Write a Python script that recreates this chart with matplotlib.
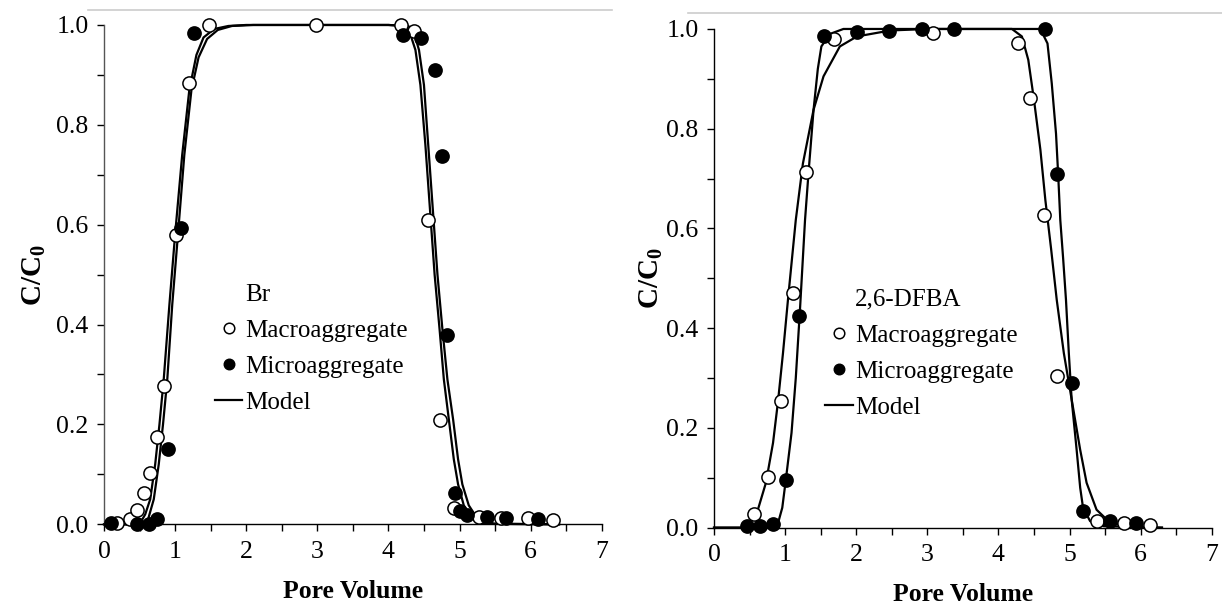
import numpy as np
import matplotlib.pyplot as plt
from matplotlib.lines import Line2D
from matplotlib.ticker import MultipleLocator

# ─────────────────────────────────────────────────────────────────────────────
# DATA
# ─────────────────────────────────────────────────────────────────────────────

# Br -- measured points
br_macro_pv = [0.18, 0.36, 0.46, 0.56, 0.65, 0.75, 0.84, 1.01, 1.20, 1.48,
               2.98, 4.18, 4.36, 4.55, 4.73, 4.92, 5.27, 5.58, 5.96, 6.31]
br_macro_c = [0.002, 0.010, 0.028, 0.062, 0.102, 0.174, 0.276, 0.580, 0.884, 1.0,
              1.0, 1.0, 0.988, 0.609, 0.209, 0.032, 0.014, 0.013, 0.012, 0.009]

br_micro_pv = [0.10, 0.46, 0.63, 0.75, 0.90, 1.08, 1.27, 4.20, 4.46, 4.65,
               4.75, 4.83, 4.93, 5.00, 5.10, 5.38, 5.65, 6.11]
br_micro_c = [0.002, 0.0, 0.001, 0.010, 0.150, 0.594, 0.984, 0.980, 0.974, 0.910,
              0.737, 0.380, 0.062, 0.026, 0.018, 0.014, 0.013, 0.010]

# Br -- model curves
br_model_macro_pv = [0.0, 0.45, 0.52, 0.58, 0.65, 0.72, 0.78, 0.84, 0.92, 1.00,
                     1.10, 1.20, 1.30, 1.40, 1.55, 1.75, 2.00, 4.00, 4.22, 4.30,
                     4.38, 4.45, 4.52, 4.58, 4.65, 4.72, 4.78, 4.85, 4.92, 4.98,
                     5.06, 5.15, 5.25, 5.40, 6.40]
br_model_macro_c = [0.0, 0.0, 0.005, 0.02, 0.05, 0.12, 0.20, 0.29, 0.44, 0.58,
                    0.74, 0.87, 0.94, 0.975, 0.992, 0.998, 1.0, 1.0, 0.998, 0.985,
                    0.95, 0.88, 0.76, 0.64, 0.50, 0.39, 0.29, 0.21, 0.13, 0.08,
                    0.038, 0.016, 0.006, 0.001, 0.0]

br_model_micro_pv = [0.0, 0.55, 0.62, 0.70, 0.77, 0.83, 0.89, 0.96, 1.04, 1.13,
                     1.23, 1.33, 1.45, 1.60, 1.80, 2.10, 4.00, 4.28, 4.36, 4.43,
                     4.50, 4.56, 4.62, 4.69, 4.76, 4.83, 4.91, 4.98, 5.04, 5.13,
                     5.23, 5.33, 5.50, 6.40]
br_model_micro_c = [0.0, 0.0, 0.01, 0.05, 0.12, 0.20, 0.29, 0.44, 0.58, 0.74,
                    0.87, 0.935, 0.972, 0.99, 0.998, 1.0, 1.0, 0.998, 0.985, 0.95,
                    0.88, 0.76, 0.64, 0.50, 0.39, 0.29, 0.21, 0.13, 0.08, 0.038,
                    0.016, 0.006, 0.001, 0.0]

# 2,6-DFBA -- measured points
dfba_macro_pv = [0.56, 0.76, 0.94, 1.11, 1.30, 1.69, 3.08, 4.27, 4.45, 4.64,
                 4.83, 5.39, 5.76, 6.13]
dfba_macro_c = [0.028, 0.102, 0.253, 0.470, 0.713, 0.979, 0.991, 0.971, 0.861, 0.627,
                0.305, 0.013, 0.009, 0.006]

dfba_micro_pv = [0.47, 0.65, 0.83, 1.01, 1.20, 1.55, 2.01, 2.46, 2.92, 3.38,
                 4.66, 4.83, 5.03, 5.19, 5.57, 5.94]
dfba_micro_c = [0.003, 0.003, 0.007, 0.096, 0.424, 0.985, 0.993, 0.995, 1.0, 1.0,
                0.999, 0.709, 0.291, 0.034, 0.013, 0.009]

# 2,6-DFBA -- model curves
dfba_model_macro_pv = [0.0, 0.40, 0.48, 0.60, 0.73, 0.83, 0.90, 0.97, 1.04, 1.15,
                       1.25, 1.40, 1.54, 1.77, 2.01, 2.48, 3.00, 4.19, 4.33, 4.42,
                       4.50, 4.59, 4.66, 4.74, 4.82, 4.92, 5.03, 5.15, 5.24, 5.38,
                       5.57, 5.89, 6.30]
dfba_model_macro_c = [0.0, 0.0, 0.005, 0.028, 0.09, 0.17, 0.253, 0.35, 0.457, 0.617,
                      0.73, 0.838, 0.905, 0.965, 0.985, 0.997, 1.0, 1.0, 0.985, 0.938,
                      0.858, 0.758, 0.657, 0.56, 0.457, 0.35, 0.257, 0.156, 0.09, 0.036,
                      0.010, 0.001, 0.0]

dfba_model_micro_pv = [0.0, 0.80, 0.86, 0.90, 0.96, 1.01, 1.09, 1.15, 1.21, 1.28,
                       1.33, 1.40, 1.46, 1.51, 1.63, 1.82, 4.59, 4.69, 4.75, 4.81,
                       4.84, 4.87, 4.91, 4.95, 4.99, 5.03, 5.10, 5.15, 5.19, 5.29,
                       5.48, 6.30]
dfba_model_micro_c = [0.0, 0.0, 0.003, 0.009, 0.04, 0.096, 0.19, 0.30, 0.44, 0.617,
                      0.713, 0.838, 0.92, 0.965, 0.99, 1.0, 1.0, 0.971, 0.891, 0.79,
                      0.709, 0.617, 0.54, 0.457, 0.35, 0.257, 0.156, 0.08, 0.04, 0.013,
                      0.003, 0.0]

# ─────────────────────────────────────────────────────────────────────────────
# STYLE
# ─────────────────────────────────────────────────────────────────────────────

plt.rcParams["font.family"] = ["Liberation Serif", "DejaVu Serif"]
plt.rcParams["mathtext.fontset"] = "custom"
plt.rcParams["mathtext.rm"] = "Liberation Serif"
plt.rcParams["mathtext.bf"] = "Liberation Serif:bold"

TICK_FS   = 18.5
XLABEL_FS = 18.5
YLABEL_FS = 21
LEGEND_FS = 18
MS        = 9.5


def draw_panel(ax, name, macro, micro, model_macro, model_micro, spine_col,
               leg_y, ylab_pad):
    ax.plot(*model_macro, color="black", lw=1.6, clip_on=False, zorder=2)
    ax.plot(*model_micro, color="black", lw=1.6, clip_on=False, zorder=2)
    ax.plot(*macro, ls="none", marker="o", ms=MS, mfc="white", mec="black",
            mew=1.1, clip_on=False, zorder=3)
    ax.plot(*micro, ls="none", marker="o", ms=MS, mfc="black", mec="black",
            mew=1.1, clip_on=False, zorder=3)

    ax.set_xlim(0, 7)
    ax.set_ylim(0, 1.0)
    ax.xaxis.set_major_locator(MultipleLocator(1))
    ax.xaxis.set_minor_locator(MultipleLocator(0.5))
    ax.yaxis.set_major_locator(MultipleLocator(0.2))
    ax.yaxis.set_minor_locator(MultipleLocator(0.1))
    ax.set_yticks(np.arange(0, 1.01, 0.2))
    ax.set_yticklabels([f"{v:.1f}" for v in np.arange(0, 1.01, 0.2)])
    ax.tick_params(which="both", direction="out", length=5, width=1.0,
                   labelsize=TICK_FS)
    ax.tick_params(axis="x", pad=7)
    ax.tick_params(axis="y", pad=6)

    for side in ["top", "right"]:
        ax.spines[side].set_visible(False)
    ax.spines["left"].set_color(spine_col)
    ax.spines["bottom"].set_color("black")
    for side in ["left", "bottom"]:
        ax.spines[side].set_linewidth(1.0)

    ax.set_xlabel("Pore Volume", fontsize=XLABEL_FS, fontweight="bold", labelpad=12)
    ax.set_ylabel(r"C/C$_\mathbf{0}$", fontsize=YLABEL_FS, fontweight="bold",
                  labelpad=ylab_pad)

    handles = [
        Line2D([], [], ls="none", label=name),
        Line2D([], [], ls="none", marker="o", ms=MS, mfc="white", mec="black",
               mew=1.1, label="Macroaggregate"),
        Line2D([], [], ls="none", marker="o", ms=MS, mfc="black", mec="black",
               label="Microaggregate"),
        Line2D([], [], color="black", lw=1.6, label="Model"),
    ]
    ax.legend(handles=handles, loc="upper left", bbox_to_anchor=(0.223, leg_y),
              frameon=False, fontsize=LEGEND_FS, borderpad=0, borderaxespad=0,
              handlelength=1.1, handletextpad=0.1, labelspacing=0.54,
              markerscale=0.8)


# ─────────────────────────────────────────────────────────────────────────────
# FIGURE
# ─────────────────────────────────────────────────────────────────────────────

fig = plt.figure(figsize=(12.22, 6.15), dpi=100)
ax_br = fig.add_axes([0.0851, 0.1475, 0.4073, 0.8119])
ax_df = fig.add_axes([0.5843, 0.1420, 0.4073, 0.8109])

draw_panel(ax_br, "Br",
           (br_macro_pv, br_macro_c), (br_micro_pv, br_micro_c),
           (br_model_macro_pv, br_model_macro_c),
           (br_model_micro_pv, br_model_micro_c), "#555555", 0.482, 6)
draw_panel(ax_df, "2,6-DFBA",
           (dfba_macro_pv, dfba_macro_c), (dfba_micro_pv, dfba_micro_c),
           (dfba_model_macro_pv, dfba_model_macro_c),
           (dfba_model_micro_pv, dfba_model_micro_c), "black", 0.480, 1)

# faint separator lines along the top edge of each panel
fig.add_artist(Line2D([88 / 1222, 612 / 1222], [1 - 10 / 615, 1 - 10 / 615],
                      color="#cccccc", lw=1.2))
fig.add_artist(Line2D([688 / 1222, 1.0], [1 - 13 / 615, 1 - 13 / 615],
                      color="#cccccc", lw=1.2))

fig.savefig("out.png", dpi=100)
plt.close(fig)
